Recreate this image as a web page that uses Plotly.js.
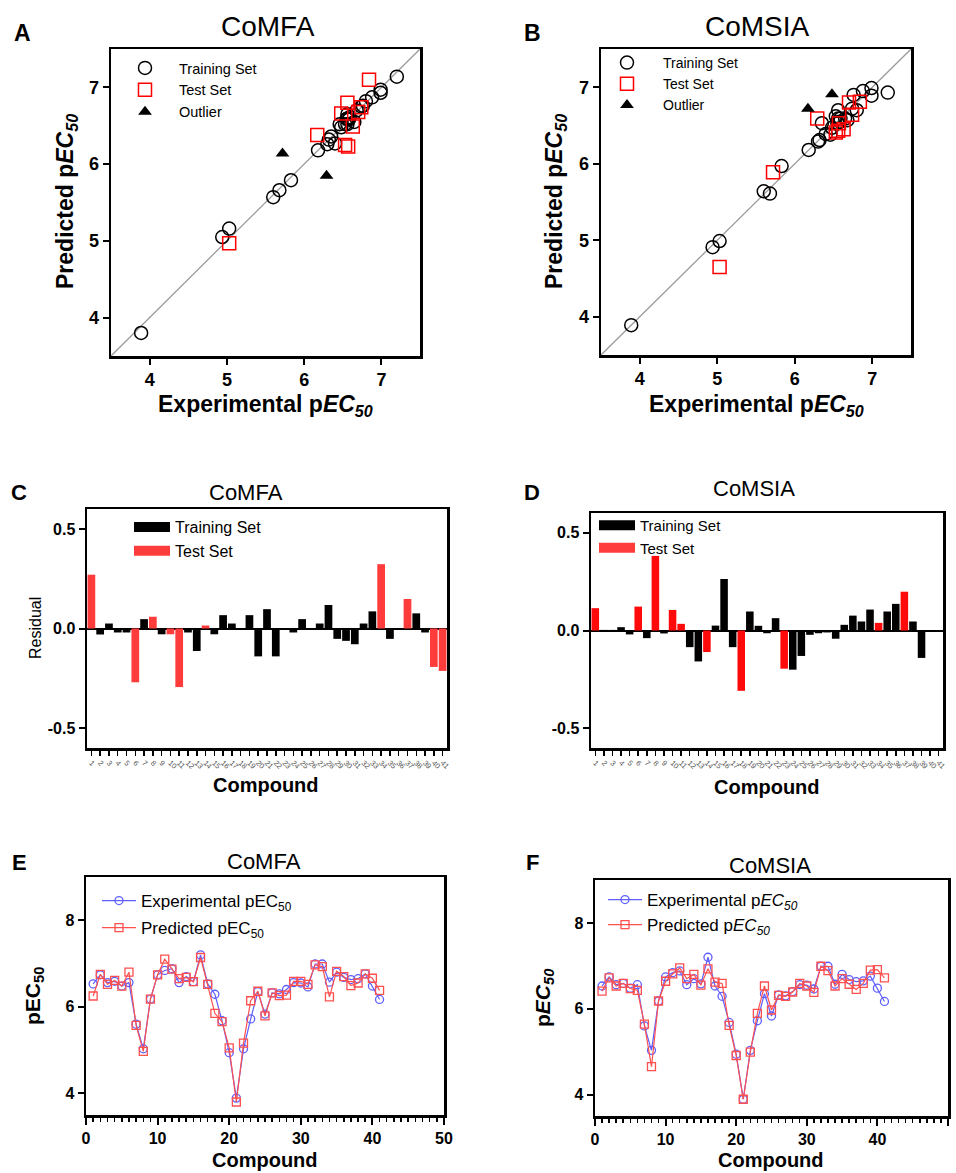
<!DOCTYPE html>
<html><head><meta charset="utf-8">
<script src="https://cdn.plot.ly/plotly-3.0.1.min.js"></script>
<style>html,body{margin:0;padding:0;background:#fff;} #chart{width:956px;height:1173px;}</style>
</head><body><div id="chart"></div>
<script>
// ---------------- data ----------------
const compounds = [1,2,3,4,5,6,7,8,9,10,11,12,13,14,15,16,17,18,19,20,21,22,23,24,25,26,27,28,29,30,31,32,33,34,35,36,37,38,39,40,41];
const experimental = [6.53,6.74,6.56,6.59,6.48,6.56,5.60,5.03,6.18,6.74,6.84,6.88,6.56,6.70,6.58,7.20,6.53,6.29,5.68,4.94,3.89,5.03,5.72,6.35,5.83,6.32,6.30,6.40,6.56,6.55,6.46,6.99,6.99,6.57,6.80,6.68,6.63,6.65,6.76,6.48,6.17];
const predictedCoMFA = [6.25,6.75,6.52,6.61,6.48,6.80,5.57,4.97,6.18,6.74,7.10,6.87,6.65,6.68,6.58,7.14,6.52,5.85,5.66,5.05,3.80,5.16,6.14,6.36,5.79,6.32,6.26,6.27,6.59,6.59,6.52,6.97,6.93,6.23,6.82,6.70,6.49,6.55,6.76,6.66,6.38];
const predictedCoMSIA = [6.41,6.72,6.53,6.59,6.47,6.43,5.64,4.65,6.18,6.64,6.81,6.95,6.70,6.80,6.55,6.93,6.62,6.59,5.61,4.91,3.89,4.99,5.89,6.53,5.97,6.31,6.29,6.39,6.59,6.53,6.38,6.99,6.89,6.53,6.70,6.57,6.45,6.59,6.90,6.91,6.72];
const residualCoMFA = [0.27,-0.03,0.025,-0.02,-0.02,-0.27,0.047,0.059,-0.029,-0.029,-0.294,-0.02,-0.113,0.015,-0.029,0.067,0.025,null,0.067,-0.14,0.097,-0.14,null,-0.02,0.047,0,0.025,0.118,-0.052,-0.062,-0.079,0.025,0.086,0.323,-0.052,0,0.148,0.076,-0.02,-0.193,-0.213];
const residualCoMSIA = [0.114,0.003,0.003,0.017,-0.02,0.122,-0.039,0.381,-0.015,0.105,0.034,-0.085,-0.158,-0.11,0.025,0.263,-0.085,-0.308,0.097,0.024,-0.014,0.063,-0.195,-0.2,-0.13,-0.022,-0.014,-0.01,-0.042,0.029,0.076,0.046,0.107,0.039,0.097,0.136,0.198,0.046,-0.14,null,null];
const testSetCoMFA = [1,6,8,10,11,14,34,37,40,41];
const outliersCoMFA = [18,23];
const testSetCoMSIA = [1,6,8,10,11,14,18,23,34,37];
const outliersCoMSIA = [40,41];
const identityLine = [3.5,7.5];
const scatterTicks = [4,5,6,7];
const residualTicks = [-0.5,0,0.5];
const residualTickText = ['-0.5','0.0','0.5'];
const pecTicks = [4,6,8];
const compoundTicks = [0,10,20,30,40,50];
const compoundTickText = compounds.map(String);

// ---------------- helpers ----------------
const W = 956, H = 1173;
const FONT = 'Liberation Sans, Arial, Helvetica, sans-serif';
const fx = p => p / W;
const fy = p => 1 - p / H;
const domX = b => [fx(b[0]), fx(b[2])];
const domY = b => [fy(b[3]), fy(b[1])];
const pick = (arr, ids) => ids.map(i => arr[i - 1]);
const others = (a, b) => compounds.filter(c => !a.includes(c) && !b.includes(c));
const only = (arr, ids) => compounds.map((c, i) => ids.includes(c) ? arr[i] : null);
const except = (arr, ids) => compounds.map((c, i) => ids.includes(c) ? null : arr[i]);

const boxA = [111, 49, 420, 356];
const boxB = [601, 49, 911, 355];
const boxC = [87, 509, 447, 748];
const boxD = [591, 513, 943, 748];
const boxE = [86, 877, 444, 1115];
const boxF = [595, 880, 948, 1116];

const BLUE = 'rgb(95,95,255)';
const REDL = 'rgb(255,80,80)';

function scatterPanel(xa, ya, lg, pred, test, outl) {
  const train = others(test, outl);
  return [
    {type:'scatter', mode:'lines', x:identityLine, y:identityLine, xaxis:xa, yaxis:ya,
     line:{color:'#9a9a9a', width:1.3}, showlegend:false, hoverinfo:'skip'},
    {type:'scatter', mode:'markers', name:'Training Set', legend:lg, xaxis:xa, yaxis:ya,
     x:pick(experimental, train), y:pick(pred, train),
     marker:{symbol:'circle-open', size:13, color:'black', line:{width:1.5, color:'black'}}},
    {type:'scatter', mode:'markers', name:'Test Set', legend:lg, xaxis:xa, yaxis:ya,
     x:pick(experimental, test), y:pick(pred, test),
     marker:{symbol:'square-open', size:13, color:'red', line:{width:1.5, color:'red'}}},
    {type:'scatter', mode:'markers', name:'Outlier', legend:lg, xaxis:xa, yaxis:ya,
     x:pick(experimental, outl), y:pick(pred, outl),
     marker:{symbol:'triangle-up', size:12, color:'black'}}
  ];
}
function residualPanel(xa, ya, lg, res, test, red) {
  return [
    {type:'bar', x:compounds, y:except(res, test), xaxis:xa, yaxis:ya, width:0.88,
     marker:{color:'black', line:{width:0}}, showlegend:false},
    {type:'bar', x:compounds, y:only(res, test), xaxis:xa, yaxis:ya, width:0.88,
     marker:{color:red, line:{width:0}}, showlegend:false},
    {type:'scatter', mode:'lines', x:[null], y:[null], xaxis:xa, yaxis:ya, legend:lg,
     name:'Training Set', line:{color:'black', width:15}},
    {type:'scatter', mode:'lines', x:[null], y:[null], xaxis:xa, yaxis:ya, legend:lg,
     name:'Test Set', line:{color:'rgb(255,60,60)', width:15}}
  ];
}
function linePanel(xa, ya, lg, pred, expName, predName) {
  return [
    {type:'scatter', mode:'lines+markers', x:compounds, y:experimental, xaxis:xa, yaxis:ya, legend:lg,
     name:expName, legendgroup:lg+'e',
     line:{color:BLUE, width:1.2}, marker:{symbol:'circle-open', size:8, color:BLUE, line:{width:1.3, color:BLUE}}},
    {type:'scatter', mode:'lines+markers', x:compounds, y:pred, xaxis:xa, yaxis:ya, legend:lg,
     name:predName, legendgroup:lg+'p',
     line:{color:REDL, width:1.2}, marker:{symbol:'square-open', size:8, color:REDL, line:{width:1.3, color:REDL}}}
  ];
}

const traces = [].concat(
  scatterPanel('x','y','legend', predictedCoMFA, testSetCoMFA, outliersCoMFA),
  scatterPanel('x2','y2','legend2', predictedCoMSIA, testSetCoMSIA, outliersCoMSIA),
  residualPanel('x3','y3','legend3', residualCoMFA, testSetCoMFA, 'rgb(255,60,60)'),
  residualPanel('x4','y4','legend4', residualCoMSIA, testSetCoMSIA, 'rgb(255,10,10)'),
  linePanel('x5','y5','legend5', predictedCoMFA, 'Experimental pEC<sub>50</sub>', 'Predicted pEC<sub>50</sub>'),
  linePanel('x6','y6','legend6', predictedCoMSIA, 'Experimental p<i>EC<sub>50</sub></i>', 'Predicted p<i>EC<sub>50</sub></i>')
);

function axis(extra, size) {
  return Object.assign({
    showline:true, linecolor:'black', linewidth:2.5, mirror:true,
    ticks:'outside', ticklen:6, tickwidth:2, tickcolor:'black',
    showgrid:false, zeroline:false, fixedrange:true,
    tickfont:{family:FONT, size:size || 16, color:'black', weight:'bold'}
  }, extra);
}

const layout = {
  width:W, height:H, margin:{l:0, r:0, t:0, b:0},
  paper_bgcolor:'white', plot_bgcolor:'white',
  font:{family:FONT, color:'black'},
  barmode:'overlay', showlegend:true,
  xaxis: axis({domain:domX(boxA), anchor:'y', range:[3.5,7.5], tickmode:'array', tickvals:scatterTicks}, 18),
  yaxis: axis({domain:domY(boxA), anchor:'x', range:[3.5,7.5], tickmode:'array', tickvals:scatterTicks}, 18),
  xaxis2: axis({domain:domX(boxB), anchor:'y2', range:[3.5,7.5], tickmode:'array', tickvals:scatterTicks}, 18),
  yaxis2: axis({domain:domY(boxB), anchor:'x2', range:[3.5,7.5], tickmode:'array', tickvals:scatterTicks}, 18),
  xaxis3: axis({domain:domX(boxC), anchor:'y3', range:[0.5,41.5], tickmode:'array', tickvals:compounds, ticktext:compoundTickText,
    tickangle:45, ticklen:5, tickwidth:1.5, tickfont:{family:FONT, size:7.5, color:'#555'}}),
  yaxis3: axis({domain:domY(boxC), anchor:'x3', range:[-0.6,0.6], tickmode:'array', tickvals:residualTicks, ticktext:residualTickText,
    zeroline:true, zerolinecolor:'black', zerolinewidth:2}),
  xaxis4: axis({domain:domX(boxD), anchor:'y4', range:[0.5,41.5], tickmode:'array', tickvals:compounds, ticktext:compoundTickText,
    tickangle:45, ticklen:5, tickwidth:1.5, tickfont:{family:FONT, size:7.5, color:'#555'}}),
  yaxis4: axis({domain:domY(boxD), anchor:'x4', range:[-0.6,0.6], tickmode:'array', tickvals:residualTicks, ticktext:residualTickText,
    zeroline:true, zerolinecolor:'black', zerolinewidth:2}),
  xaxis5: axis({domain:domX(boxE), anchor:'y5', range:[0,50], tickmode:'array', tickvals:compoundTicks, ticklen:7,
    minor:{tickmode:'linear', tick0:0, dtick:1, ticks:'outside', ticklen:4, tickwidth:1.5, tickcolor:'black'}}),
  yaxis5: axis({domain:domY(boxE), anchor:'x5', range:[3.5,9], tickmode:'array', tickvals:pecTicks}),
  xaxis6: axis({domain:domX(boxF), anchor:'y6', range:[0,50], tickmode:'array', tickvals:compoundTicks, ticklen:7,
    minor:{tickmode:'linear', tick0:0, dtick:1, ticks:'outside', ticklen:4, tickwidth:1.5, tickcolor:'black'}}),
  yaxis6: axis({domain:domY(boxF), anchor:'x6', range:[3.5,9], tickmode:'array', tickvals:pecTicks}),
  legend: {x:fx(111), y:fy(52), xanchor:'left', yanchor:'top', bgcolor:'rgba(0,0,0,0)', itemwidth:58,
    font:{family:FONT, size:14.5, color:'black'}, tracegroupgap:0},
  legend2:{x:fx(591), y:fy(47), xanchor:'left', yanchor:'top', bgcolor:'rgba(0,0,0,0)', itemwidth:62,
    font:{family:FONT, size:14, color:'black'}, tracegroupgap:0},
  legend3:{x:fx(129), y:fy(510), xanchor:'left', yanchor:'top', bgcolor:'rgba(0,0,0,0)', itemwidth:36,
    font:{family:FONT, size:16, color:'black'}},
  legend4:{x:fx(594), y:fy(509), xanchor:'left', yanchor:'top', bgcolor:'rgba(0,0,0,0)', itemwidth:36,
    font:{family:FONT, size:15, color:'black'}},
  legend5:{x:fx(97), y:fy(883), xanchor:'left', yanchor:'top', bgcolor:'rgba(0,0,0,0)', itemwidth:34,
    font:{family:FONT, size:17, color:'black'}, tracegroupgap:2},
  legend6:{x:fx(603), y:fy(882), xanchor:'left', yanchor:'top', bgcolor:'rgba(0,0,0,0)', itemwidth:34,
    font:{family:FONT, size:17, color:'black'}, tracegroupgap:0},
  annotations:[]
};

function ann(text, x, y, size, opts) {
  layout.annotations.push(Object.assign({
    text:text, x:fx(x), y:fy(y), xref:'paper', yref:'paper', showarrow:false,
    xanchor:'center', yanchor:'middle', font:{family:FONT, size:size, color:'black'}
  }, opts || {}));
}
// panel letters
ann('<b>A</b>', 22, 33, 23); ann('<b>B</b>', 532, 33, 23);
ann('<b>C</b>', 19, 492, 22); ann('<b>D</b>', 532, 492, 22);
ann('<b>E</b>', 19, 862, 22); ann('<b>F</b>', 532, 862, 22);
// titles
ann('CoMFA', 268, 27, 28); ann('CoMSIA', 757, 27, 28);
ann('CoMFA', 246, 492, 22); ann('CoMSIA', 754, 489, 22);
ann('CoMFA', 264, 861, 22); ann('CoMSIA', 770, 865, 22);
// axis titles
ann('<b>Experimental p<i>EC<sub>50</sub></i></b>', 265, 405, 23);
ann('<b>Predicted p<i>EC<sub>50</sub></i></b>', 66, 202, 23, {textangle:-90});
ann('<b>Experimental p<i>EC<sub>50</sub></i></b>', 756, 405, 23);
ann('<b>Predicted p<i>EC<sub>50</sub></i></b>', 555, 202, 23, {textangle:-90});
ann('<b>Compound</b>', 266, 785, 20);
ann('Residual', 35, 628, 16, {textangle:-90});
ann('<b>Compound</b>', 767, 787, 20);
ann('<b>Compound</b>', 265, 1160, 20);
ann('<b>pEC<sub>50</sub></b>', 34, 996, 21, {textangle:-90});
ann('<b>Compound</b>', 771, 1160, 20);
ann('<b>p<i>EC<sub>50</sub></i></b>', 544, 998, 21, {textangle:-90});

Plotly.newPlot('chart', traces, layout, {staticPlot:true, displayModeBar:false});
</script>
</body></html>
